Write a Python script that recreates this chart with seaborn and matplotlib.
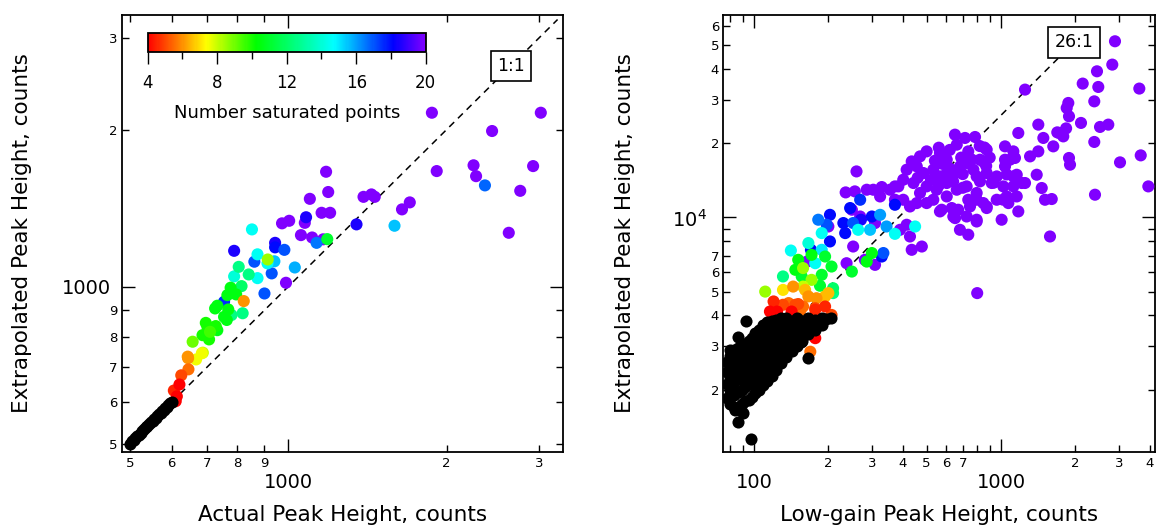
import matplotlib
matplotlib.use("Agg")
import matplotlib.pyplot as plt
import pandas as pd
import seaborn as sns
from matplotlib.colors import LinearSegmentedColormap, Normalize
from matplotlib.cm import ScalarMappable
from matplotlib.ticker import FixedLocator, FixedFormatter

# ---------------- data ----------------
# Left panel: actual vs extrapolated peak height (counts)
left_unsat = [(500, 500), (504, 505), (508, 508), (512, 512), (516, 517), (520, 520),
              (524, 525), (528, 528), (532, 533), (536, 537), (540, 541), (544, 545),
              (548, 549), (552, 553), (556, 557), (560, 561), (564, 565), (568, 569),
              (572, 573), (576, 577), (580, 581), (584, 585), (588, 589), (592, 593),
              (596, 597), (600, 600)]

# (actual, extrapolated, number of saturated points)
left_sat = [(611, 603, 4), (614, 616, 4), (606, 632, 4.5), (621, 649, 4), (626, 676, 5),
            (646, 694, 5.5), (645, 729, 6), (644, 734, 6), (823, 938, 6),
            (668, 725, 7.5), (685, 745, 7.5), (688, 747, 8), (658, 784, 9), (914, 1127, 8.5),
            (777, 995, 10.5), (766, 963, 10.5), (796, 966, 10.5), (733, 919, 10.5),
            (726, 908, 10.5), (769, 904, 10.5), (755, 875, 10.5), (764, 863, 10.5),
            (697, 852, 10), (702, 837, 10), (728, 840, 10), (705, 819, 10.5),
            (733, 825, 10.5), (687, 807, 10), (710, 819, 9.5), (707, 792, 10),
            (1186, 1233, 11),
            (815, 1002, 12), (841, 1055, 12.5), (805, 1091, 12.5), (819, 889, 12.5),
            (780, 882, 12.5),
            (853, 1287, 14.5), (874, 1153, 14.5), (913, 1108, 14.5), (789, 1046, 14),
            (874, 1038, 14.5),
            (1029, 1088, 15.8), (941, 1118, 15.5), (1592, 1308, 15.5),
            (862, 1116, 17), (930, 1060, 17), (901, 970, 17), (983, 1176, 17),
            (1132, 1213, 16.5), (2365, 1563, 16.8),
            (789, 1171, 18.5), (944, 1213, 18.5), (944, 1189, 18), (1081, 1358, 18.5),
            (1348, 1316, 18.5), (755, 935, 17.5)]

# peaks with 20 or more saturated points
left_sat20 = [(1180, 1660), (1191, 1518), (1099, 1473), (1157, 1385), (1201, 1385),
              (1075, 1325), (973, 1322), (1004, 1337), (1057, 1255), (1110, 1242),
              (990, 1017), (1165, 1232), (1875, 2154), (3020, 2154), (2440, 1987),
              (1915, 1665), (2250, 1708), (2275, 1628), (2920, 1702), (2760, 1526),
              (2625, 1268), (1390, 1486), (1439, 1502), (1460, 1486), (1645, 1406),
              (1702, 1450)]

# Right panel: low-gain vs extrapolated peak height (counts)
right_unsat = [(78, 1850), (78, 2100), (78, 2350), (78, 2600),
               (80, 1750), (80, 2000), (80, 2250), (80, 2500), (80, 2750), (80, 2900),
               (83, 1700), (83, 1900), (83, 2150), (83, 2400), (83, 2650), (83, 2900),
               (86, 1700), (86, 1950), (86, 2200), (86, 2450), (86, 2700), (86, 2950),
               (89, 1750), (89, 2000), (89, 2250), (89, 2500), (89, 2750), (89, 3000),
               (92, 1800), (92, 2050), (92, 2300), (92, 2550), (92, 2800), (92, 3050),
               (95, 1820), (95, 2100), (95, 2350), (95, 2600), (95, 2850), (95, 3150),
               (98, 1870), (98, 2150), (98, 2400), (98, 2650), (98, 2950), (98, 3250),
               (101, 1930), (101, 2200), (101, 2450), (101, 2750), (101, 3050), (101, 3380),
               (105, 2000), (105, 2250), (105, 2550), (105, 2850), (105, 3150), (105, 3500),
               (109, 2080), (109, 2350), (109, 2650), (109, 2950), (109, 3300), (109, 3650),
               (113, 2170), (113, 2450), (113, 2750), (113, 3050), (113, 3400), (113, 3750),
               (118, 2270), (118, 2550), (118, 2850), (118, 3150), (118, 3500), (118, 3800),
               (123, 2400), (123, 2700), (123, 3000), (123, 3300), (123, 3600), (123, 3850),
               (129, 2560), (129, 2850), (129, 3150), (129, 3450), (129, 3750), (129, 3900),
               (135, 2700), (135, 3000), (135, 3300), (135, 3600), (135, 3900),
               (142, 2880), (142, 3200), (142, 3500), (142, 3800),
               (149, 3000), (149, 3350), (149, 3650), (149, 3900),
               (157, 3150), (157, 3500), (157, 3800),
               (166, 3350), (166, 3650), (166, 3900),
               (176, 3500), (176, 3800), (188, 3650), (188, 3900), (205, 3900),
               (93, 3810), (86, 3265), (86, 1480), (97, 1256), (90, 1600), (84, 1650),
               (166, 2680), (155, 3110), (177, 3830), (195, 3870),
               (81, 2120), (87, 2330), (94, 2480), (100, 2620), (107, 2800), (116, 3000),
               (126, 3250), (138, 3450), (152, 3700), (84, 2780), (91, 2680), (103, 2330)]

right_sat = [(120, 4560, 4.5), (124, 4150, 4), (131, 4420, 5), (147, 4420, 5), (142, 4150, 4),
             (158, 4350, 5.5), (177, 4280, 5), (194, 4350, 4.5), (206, 4020, 5),
             (154, 4190, 5.5), (116, 4150, 4), (138, 4490, 5.5), (151, 4450, 5),
             (177, 4220, 4.5), (177, 3235, 4), (169, 2850, 5.5), (144, 5240, 6),
             (166, 4780, 6), (200, 4930, 6.5), (179, 4700, 6), (194, 4780, 6.5),
             (161, 5080, 6.5),
             (131, 5080, 7), (111, 5000, 8.5), (158, 5240, 8), (171, 5580, 8.5), (158, 6230, 8.5),
             (151, 6730, 10.5), (147, 6130, 10.5), (171, 7050, 10.5), (194, 6940, 11),
             (206, 6320, 11), (156, 5760, 11), (188, 5850, 11), (249, 6030, 11),
             (300, 7170, 10.5), (286, 6620, 10.5), (185, 5280, 11), (209, 5160, 12),
             (209, 4930, 12.5), (131, 5760, 12.5),
             (141, 7340, 14.5), (188, 8640, 14.5), (188, 7390, 15), (177, 6520, 14.5),
             (166, 7870, 14), (264, 8910, 14.5), (372, 8580, 14.5), (449, 9190, 14.5),
             (295, 8910, 15.5),
             (203, 10250, 18), (182, 9790, 16.5), (197, 9340, 17), (230, 9490, 18),
             (252, 9490, 17), (271, 9790, 18.5), (300, 10090, 18), (324, 10250, 16),
             (344, 9190, 16), (234, 8640, 18), (170, 7390, 18), (203, 7990, 18),
             (329, 6940, 18), (372, 11260, 18), (269, 11800, 17.5), (245, 10920, 18),
             (334, 7170, 17)]

right_sat20 = [(2894, 51930), (2822, 41750), (2447, 39220), (2477, 33880), (2142, 34960),
               (2386, 29610), (1873, 29170), (1845, 27840), (1885, 25740), (3631, 33370),
               (1251, 33050), (1416, 23820), (1175, 22030), (2108, 24200), (2517, 23310),
               (2719, 23820), (1722, 22030), (1787, 21340), (1628, 19440), (1484, 21030),
               (2386, 20260), (3679, 17870), (3033, 16740), (1885, 17440), (1903, 16380),
               (1416, 18550), (1311, 17700), (1038, 19440), (1122, 18550), (1087, 17160),
               (1038, 16120), (875, 18850), (785, 21220), (715, 21030), (651, 21690),
               (3949, 13370), (2402, 12370), (1579, 8370), (1006, 9790), (1251, 13800),
               (1395, 14910), (1462, 13170), (1507, 11800), (1605, 11880), (1158, 14910),
               (1122, 13370), (1055, 12170), (961, 14680), (961, 11800), (875, 15150),
               (822, 14010), (797, 12570), (848, 11440), (737, 11800), (749, 11080),
               (797, 9630), (737, 8510), (671, 10750), (566, 10580), (260, 15380),
               (801, 4930), (1835, 23000), (1690, 22160), (935, 13840), (857, 19230),
               (871, 16190), (652, 9940), (1019, 11810), (1054, 14950),
               (1139, 17440), (1038, 17160), (822, 17160), (737, 18550), (662, 19750),
               (566, 18270), (603, 17160), (500, 18550), (470, 17700), (435, 16890),
               (415, 15630), (456, 16120), (485, 15150), (532, 15630), (566, 14680),
               (603, 13800), (651, 15150), (682, 16120), (726, 16640), (773, 15630),
               (797, 14680), (726, 13370), (662, 12960), (603, 12170), (549, 12960),
               (500, 13370), (470, 12570), (442, 13800), (402, 14230), (384, 13370),
               (355, 12960), (372, 11800), (402, 11800), (428, 11080), (456, 11440),
               (500, 11440), (532, 11800), (575, 10750), (632, 10920), (797, 11800),
               (875, 11080), (1071, 11440), (1158, 12170), (1213, 13800), (1022, 13370),
               (1122, 14680), (917, 13800), (682, 8910), (875, 10920), (797, 9790),
               (726, 10090), (641, 10090), (1175, 10580), (415, 9340), (390, 8910),
               (428, 8370), (435, 7390), (478, 7620), (304, 12960), (324, 12170),
               (540, 17000), (580, 16500), (620, 15800), (460, 14500), (520, 14200),
               (560, 13500), (600, 15000), (640, 14000), (700, 15000), (690, 17500),
               (760, 17200), (560, 19200), (620, 18800), (700, 13200), (850, 16800),
               (900, 17500), (820, 19500),
               (235, 12640), (256, 12760), (286, 12960), (329, 13290), (372, 13370),
               (249, 10750), (269, 10090), (309, 9490), (252, 7620), (309, 6420),
               (281, 6730), (237, 6520), (200, 9190), (164, 6620)]

saturation_cap = 20
left_ratio = 1
right_ratio = 26

# tick values and their labels
left_major = [1000]
left_major_labels = ["1000"]
left_minor = [500, 600, 700, 800, 900, 2000, 3000]
left_minor_labels = ["5", "6", "7", "8", "9", "2", "3"]

right_x_major = [100, 1000]
right_x_major_labels = ["100", "1000"]
right_x_minor = [80, 90, 200, 300, 400, 500, 600, 700, 800, 900, 2000, 3000, 4000]
right_x_minor_labels = ["", "", "2", "3", "4", "5", "6", "7", "", "", "2", "3", "4"]
right_y_major = [10000]
right_y_major_labels = [r"$\mathdefault{10^{4}}$"]
right_y_minor = [2000, 3000, 4000, 5000, 6000, 7000, 8000, 9000,
                 20000, 30000, 40000, 50000, 60000]
right_y_minor_labels = ["2", "3", "4", "5", "6", "7", "", "", "2", "3", "4", "5", "6"]

colorbar_major = [4, 8, 12, 16, 20]
colorbar_minor = [6, 10, 14, 18]


def sat_frame(points, capped):
    df = pd.DataFrame(points, columns=["x", "y", "n"])
    df_cap = pd.DataFrame(capped, columns=["x", "y"])
    df_cap["n"] = saturation_cap
    return pd.concat([df_cap, df], ignore_index=True)


left_sat_df = sat_frame(left_sat, left_sat20)
right_sat_df = sat_frame(right_sat, right_sat20)
left_unsat_df = pd.DataFrame(left_unsat, columns=["x", "y"])
right_unsat_df = pd.DataFrame(right_unsat, columns=["x", "y"])

# ---------------- style ----------------
sns.set_theme(style="ticks")
plt.rcParams["font.family"] = ["DejaVu Sans"]
plt.rcParams["mathtext.default"] = "regular"
plt.rcParams["axes.edgecolor"] = "black"
plt.rcParams["xtick.color"] = "black"
plt.rcParams["ytick.color"] = "black"
plt.rcParams["text.color"] = "black"
plt.rcParams["axes.labelcolor"] = "black"

rainbow = LinearSegmentedColormap.from_list(
    "saturation_rainbow",
    [(0.0, "#ff0000"), (0.11, "#ff7f00"), (0.21, "#ffff00"), (0.39, "#00ff00"),
     (0.67, "#00ffff"), (0.885, "#0000ff"), (1.0, "#8000ff")])
norm = Normalize(vmin=4, vmax=20)

fig = plt.figure(figsize=(11.57, 5.27), dpi=100)
ax_l = fig.add_axes([0.10545, 0.14288, 0.38073, 0.82960])
ax_r = fig.add_axes([0.62515, 0.14288, 0.37355, 0.82960])
cax = fig.add_axes([0.12766, 0.90076, 0.24028, 0.03605])

MARKER = 76


def draw_points(ax, sat_df, unsat_df):
    ordered = sat_df.sort_values("n", ascending=False, kind="stable")
    sns.scatterplot(data=ordered, x="x", y="y", hue="n", palette=rainbow,
                    hue_norm=norm, s=MARKER, linewidth=0, legend=False,
                    ax=ax, zorder=3)
    sns.scatterplot(data=unsat_df, x="x", y="y", color="black", s=MARKER,
                    linewidth=0, legend=False, ax=ax, zorder=4)


def style_axes(ax, xlim, ylim, xmaj, xmajl, xmin, xminl, ymaj, ymajl, ymin, yminl,
               ymaj_pad):
    ax.set_xscale("log")
    ax.set_yscale("log")
    ax.set_xlim(*xlim)
    ax.set_ylim(*ylim)
    ax.xaxis.set_major_locator(FixedLocator(xmaj))
    ax.xaxis.set_major_formatter(FixedFormatter(xmajl))
    ax.xaxis.set_minor_locator(FixedLocator(xmin))
    ax.xaxis.set_minor_formatter(FixedFormatter(xminl))
    ax.yaxis.set_major_locator(FixedLocator(ymaj))
    ax.yaxis.set_major_formatter(FixedFormatter(ymajl))
    ax.yaxis.set_minor_locator(FixedLocator(ymin))
    ax.yaxis.set_minor_formatter(FixedFormatter(yminl))
    ax.tick_params(which="both", direction="in", bottom=True, left=True,
                   top=True, right=True, width=1.0, color="black")
    ax.tick_params(which="major", length=9.5)
    ax.tick_params(which="minor", length=5)
    ax.tick_params(axis="x", which="major", labelsize=14, pad=15)
    ax.tick_params(axis="x", which="minor", labelsize=9.5, pad=4)
    ax.tick_params(axis="y", which="major", labelsize=14, pad=ymaj_pad)
    ax.tick_params(axis="y", which="minor", labelsize=9.5, pad=3)
    for sp in ax.spines.values():
        sp.set_visible(True)
        sp.set_linewidth(1.3)
        sp.set_color("black")
    ax.grid(False)


def ratio_line(ax, xs, ratio, label, label_x):
    ax.plot(xs, [v * ratio for v in xs], color="black", lw=1.1,
            ls=(0, (4.5, 3.5)), zorder=2.5)
    ax.text(label_x, label_x * ratio, label, ha="center", va="center",
            fontsize=12.5, zorder=6,
            bbox=dict(boxstyle="square,pad=0.35", fc="white", ec="black", lw=1.2))


# ---------------- left panel ----------------
draw_points(ax_l, left_sat_df, left_unsat_df)
ratio_line(ax_l, [600, 3250], left_ratio, "1:1", 2650)
style_axes(ax_l, (483, 3321), (482.5, 3323), left_major, left_major_labels,
           left_minor, left_minor_labels, left_major, left_major_labels,
           left_minor, left_minor_labels, ymaj_pad=8)
ax_l.set_xlabel("Actual Peak Height, counts", fontsize=15.5)
ax_l.set_ylabel("Extrapolated Peak Height, counts", fontsize=15.5)
ax_l.text(0.3746, 0.7747, "Number saturated points", transform=ax_l.transAxes,
          ha="center", va="center", fontsize=13)

# ---------------- right panel ----------------
draw_points(ax_r, right_sat_df, right_unsat_df)
ratio_line(ax_r, [170, 1900], right_ratio, "26:1", 1975)
style_axes(ax_r, (75.1, 4222), (1119, 66700), right_x_major, right_x_major_labels,
           right_x_minor, right_x_minor_labels, right_y_major, right_y_major_labels,
           right_y_minor, right_y_minor_labels, ymaj_pad=12)
ax_r.set_xlabel("Low-gain Peak Height, counts", fontsize=15.5)
ax_r.set_ylabel("Extrapolated Peak Height, counts", fontsize=15.5)

for ax in (ax_l, ax_r):
    ax.xaxis.set_label_coords(0.5, -0.1448)
    ax.xaxis.label.set_verticalalignment("center")
    ax.yaxis.set_label_coords(-0.2275, 0.5)
    ax.yaxis.label.set_verticalalignment("center")

# ---------------- colour bar ----------------
cb = fig.colorbar(ScalarMappable(norm=norm, cmap=rainbow), cax=cax,
                  orientation="horizontal")
cb.set_ticks(colorbar_major)
cb.set_ticks(colorbar_minor, minor=True)
cb.set_ticklabels([str(v) for v in colorbar_major])
cb.outline.set_linewidth(1.3)
cb.outline.set_edgecolor("black")
cax.tick_params(which="both", direction="out", bottom=True, top=False,
                color="black", width=1.0)
cax.tick_params(which="major", length=8.5, labelsize=12, pad=7)
cax.tick_params(which="minor", length=5)

fig.savefig("out.png", dpi=100)
